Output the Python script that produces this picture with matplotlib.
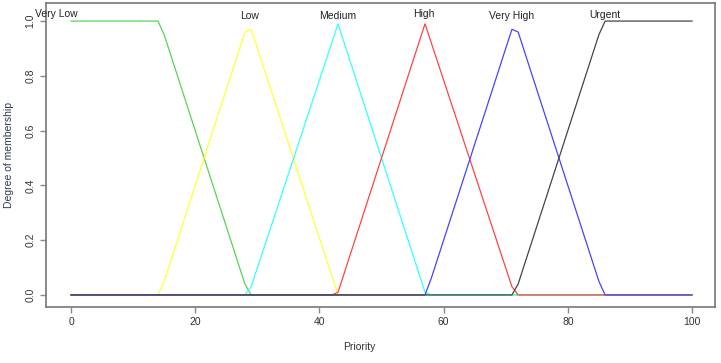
import matplotlib
matplotlib.use("Agg")
import matplotlib.pyplot as plt

# Membership function vertices
very_low_x = [0, 14, 15, 28, 29, 100]
very_low_y = [1, 1, 0.95, 0.04, 0, 0]
low_x = [0, 14, 15, 28, 29, 43, 100]
low_y = [0, 0, 0.05, 0.96, 0.97, 0, 0]
medium_x = [0, 28, 29, 43, 57, 58, 100]
medium_y = [0, 0, 0.03, 0.99, 0.01, 0, 0]
high_x = [0, 42, 43, 57, 71, 72, 100]
high_y = [0, 0, 0.01, 0.99, 0.03, 0, 0]
very_high_x = [0, 57, 58, 71, 72, 85, 86, 100]
very_high_y = [0, 0, 0.06, 0.97, 0.96, 0.05, 0, 0]
urgent_x = [0, 71, 72, 85, 86, 100]
urgent_y = [0, 0, 0.04, 0.95, 1, 1]

labels = ["Very Low", "Low", "Medium", "High", "Very High", "Urgent"]
label_x = [-2.3, 28.8, 43, 56.8, 70.9, 86]
label_y = [1.026, 1.018, 1.018, 1.026, 1.018, 1.022]

x_ticks = [0, 20, 40, 60, 80, 100]
y_ticks = [0.0, 0.2, 0.4, 0.6, 0.8, 1.0]

plt.rcParams['font.family'] = ['Liberation Sans', 'DejaVu Sans']

fig = plt.figure(figsize=(7.21, 3.63), dpi=100)
ax = fig.add_axes([46/721, 56/363, (715-46)/721, (307-3)/363])

series = [
    (very_low_x, very_low_y, '#55d455'),
    (low_x, low_y, '#ffff33'),
    (medium_x, medium_y, '#33ffff'),
    (high_x, high_y, '#ff4444'),
    (very_high_x, very_high_y, '#4444ff'),
    (urgent_x, urgent_y, '#444444'),
]
for xs, ys, c in series:
    ax.plot(xs, ys, color=c, linewidth=0.9)

for lab, lx, ly in zip(labels, label_x, label_y):
    ax.text(lx, ly, lab, ha='center', va='center', fontsize=7.5, color='#222222')

ax.set_xlim(-4.03, 103.7)
ax.set_ylim(-0.044, 1.066)
ax.set_xticks(x_ticks)
ax.set_xticklabels([str(t) for t in x_ticks])
ax.set_yticks(y_ticks)
ax.set_yticklabels([f"{t:.1f}" for t in y_ticks], rotation=90, va='center')
ax.tick_params(axis='both', colors='#888888', labelcolor='#333333', labelsize=7.5,
               length=4, width=1)
for s in ax.spines.values():
    s.set_color('#777777')
    s.set_linewidth(1.2)

fig.text(359/721, 1 - 347/363, "Priority", ha='center', va='center', fontsize=7.5, color='#333333')
fig.text(9/721, 1 - 155/363, "Degree of membership", ha='center', va='center', rotation=90,
         fontsize=7.5, color='#2b3a55')

fig.savefig("out.png", dpi=100)
